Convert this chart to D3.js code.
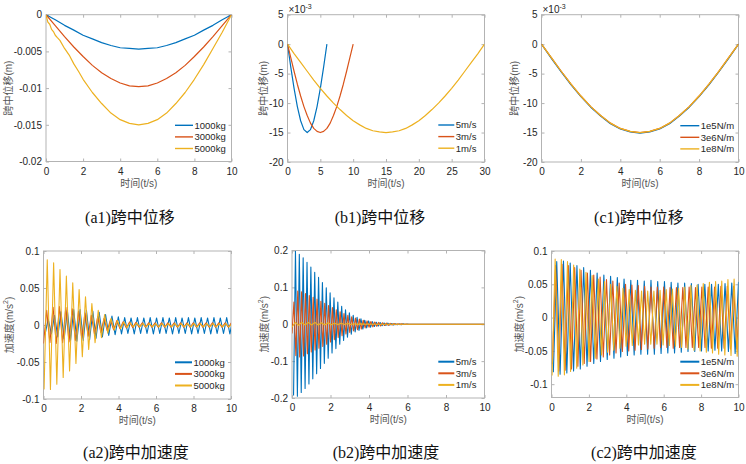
<!DOCTYPE html>
<html>
<head>
<meta charset="utf-8">
<script src="https://cdn.jsdelivr.net/npm/d3@7"></script>
<style>
  body { margin: 0; background: #fff; }
  svg { display: block; font-family: "Liberation Sans", Arial, "Noto Sans CJK SC", sans-serif; }
</style>
</head>
<body>
<svg id="fig" width="746" height="464"></svg>
<script>
// ---- series names / colours ----
const massNames   = ["1000kg", "3000kg", "5000kg"];
const speedNames  = ["5m/s", "3m/s", "1m/s"];
const springNames = ["1e5N/m", "3e6N/m", "1e8N/m"];
const lineColors  = ["#0072BD", "#D95319", "#EDB120"];

// ---- tick values ----
const ticksT10  = [0, 2, 4, 6, 8, 10];
const ticksT30  = [0, 5, 10, 15, 20, 25, 30];
const ticksDispA = [-0.02, -0.015, -0.01, -0.005, 0];
const ticksMilli = [-20, -15, -10, -5, 0, 5];      // x 10^-3
const ticksAccA  = [-0.1, -0.05, 0, 0.05, 0.1];
const ticksAccB  = [-0.2, -0.1, 0, 0.1, 0.2];

// ---- (a1) mid-span displacement, m ----
const a1Time   = [0,0.5,1,1.5,2,2.5,3,3.5,4,4.5,5,5.5,6,6.5,7,7.5,8,8.5,9,9.5,10];
const a1Mass1  = [0,-0.0007,-0.00145,-0.0021,-0.0028,-0.0033,-0.0038,-0.0042,-0.0045,-0.0046,-0.0047,-0.0046,-0.0045,-0.0042,-0.0038,-0.0033,-0.0028,-0.0021,-0.00145,-0.0007,0];
const a1Mass3  = [0,-0.0015,-0.003,-0.0044,-0.0057,-0.0069,-0.0079,-0.0087,-0.0093,-0.0097,-0.0098,-0.0097,-0.0093,-0.0087,-0.0079,-0.0069,-0.0057,-0.0044,-0.003,-0.0015,0];
const a1Time5  = [0,0.1,0.2,0.3,0.4,0.5,0.6,0.75,1,1.25,1.5,1.75,2,2.5,3,3.5,4,4.5,5,5.5,6,6.5,7,7.5,8,8.5,9,9.5,10];
const a1Mass5  = [0,-0.0010,-0.0013,-0.0020,-0.0023,-0.0028,-0.0031,-0.0035,-0.0046,-0.0055,-0.0067,-0.0077,-0.0088,-0.0106,-0.0121,-0.0134,-0.0143,-0.0148,-0.015,-0.0148,-0.0143,-0.0134,-0.0121,-0.0106,-0.0088,-0.0068,-0.0046,-0.0024,0];

// ---- (b1) displacement for speeds, x 10^-3 m ----
const b1Time5  = [0,0.5,1,1.5,2,2.5,3,3.5,4,4.5,5,5.5,6];
const b1Speed5 = [0,-3.9,-7.5,-10.6,-13.0,-14.5,-15.0,-14.5,-13.0,-10.6,-7.5,-3.9,0];
const b1Time3  = [0,0.5,1,1.5,2,2.5,3,3.5,4,4.5,5,5.5,6,6.5,7,7.5,8,8.5,9,9.5,10];
const b1Speed3 = [0,-2.3,-4.6,-6.8,-8.8,-10.6,-12.1,-13.4,-14.3,-14.8,-15.0,-14.8,-14.3,-13.4,-12.1,-10.6,-8.8,-6.8,-4.6,-2.3,0];
const b1Time1  = [0,1,2,3,4,5,6,7,8,9,10,11,12,13,14,15,16,17,18,19,20,21,22,23,24,25,26,27,28,29,30];
const b1Speed1 = [0,-1.6,-3.1,-4.6,-6.1,-7.5,-8.8,-10.0,-11.1,-12.1,-13.0,-13.7,-14.3,-14.7,-14.9,-15.0,-14.9,-14.7,-14.3,-13.7,-13.0,-12.1,-11.1,-10.0,-8.8,-7.5,-6.1,-4.6,-3.1,-1.6,0];

// ---- (c1) displacement for spring stiffness, x 10^-3 m ----
const c1Time    = [0,0.5,1,1.5,2,2.5,3,3.5,4,4.5,5,5.5,6,6.5,7,7.5,8,8.5,9,9.5,10];
const c1Spring1 = [0,-2.4,-4.7,-6.9,-8.9,-10.7,-12.2,-13.5,-14.4,-14.9,-15.1,-14.9,-14.4,-13.5,-12.2,-10.7,-8.9,-6.9,-4.7,-2.4,0];
const c1Spring2 = [0,-2.3,-4.6,-6.8,-8.8,-10.6,-12.1,-13.4,-14.3,-14.8,-15.0,-14.8,-14.3,-13.4,-12.1,-10.6,-8.8,-6.8,-4.6,-2.3,0];
const c1Spring3 = [0,-2.3,-4.6,-6.8,-8.8,-10.6,-12.1,-13.4,-14.3,-14.8,-15.0,-14.8,-14.3,-13.4,-12.1,-10.6,-8.8,-6.8,-4.6,-2.3,0];

// ---- accelerations: successive extremes (m/s^2) ----
// each list starts at its own first time and steps by half a period
const a2Mass1 = [-0.013,0.008,-0.012,0.013,-0.016,0.018,-0.019,0.020,-0.021,0.021,
  -0.022,0.021,-0.021,0.020,-0.020,0.019,-0.018,0.017,-0.016,0.014,
  -0.014,0.012,-0.013,0.011,-0.012,0.010,-0.0115,0.0095,-0.012,0.010,
  -0.0115,0.0095,-0.0115,0.010,-0.012,0.0095,-0.0115,0.010,-0.0115,0.0095,
  -0.012,0.010,-0.0115,0.0095,-0.0115,0.010,-0.012,0.0095,-0.0115,0.010,
  -0.0115,0.0095,-0.012,0.010,-0.0115,0.0095,-0.0115,0.010,-0.012,0.0095];
const a2Mass3 = [-0.025,0.020,-0.024,0.024,-0.025,0.025,-0.024,0.024,-0.023,0.022,
  -0.021,0.019,-0.018,0.016,-0.015,0.013,-0.012,0.011,-0.010,0.009,
  -0.008,0.007,-0.0065,0.006,-0.005,0.0045,-0.004,0.004,-0.0035,0.0035,
  -0.003,0.003,-0.003,0.003,-0.003,0.003,-0.003,0.003,-0.003,0.003,
  -0.003,0.003,-0.003,0.003,-0.003,0.003,-0.003,0.003,-0.003,0.003,
  -0.003,0.003,-0.003,0.003,-0.003,0.003,-0.003,0.003,-0.003,0.003];
const a2Mass5 = [-0.087,0.088,-0.087,0.084,-0.080,0.075,-0.071,0.066,-0.062,0.057,
  -0.052,0.048,-0.043,0.038,-0.033,0.029,-0.024,0.020,-0.017,0.014,
  -0.011,0.009,-0.007,0.006,-0.005,0.004,-0.0035,0.003,-0.0025,0.0025,
  -0.0025,0.002,-0.0025,0.002,-0.0025,0.002,-0.0025,0.002,-0.0025,0.002,
  -0.0025,0.002,-0.0025,0.002,-0.0025,0.002,-0.0025,0.002,-0.0025,0.002,
  -0.0025,0.002,-0.0025,0.002,-0.0025,0.002,-0.0025,0.002,-0.0025,0.002];

const b2Speed5 = [-0.193,0.198,-0.195,0.190,-0.185,0.180,-0.174,0.168,-0.162,0.155,
  -0.148,0.141,-0.134,0.127,-0.120,0.113,-0.106,0.099,-0.092,0.085,
  -0.078,0.072,-0.066,0.060,-0.054,0.049,-0.044,0.039,-0.035,0.031,
  -0.027,0.024,-0.021,0.019,-0.017,0.015,-0.013,0.011,-0.010,0.009,
  -0.008,0.007,-0.006,0.0055,-0.005,0.0045,-0.004,0.0035,-0.003,0.003,
  -0.0025,0.002,-0.002,0.0015,-0.0015,0.001,-0.001,0.001,-0.0005,0.0005];
const b2Speed3 = [-0.025,0.060,-0.085,0.090,-0.089,0.088,-0.086,0.083,-0.080,0.078,
  -0.075,0.073,-0.070,0.068,-0.065,0.062,-0.060,0.057,-0.054,0.051,
  -0.048,0.045,-0.042,0.039,-0.036,0.034,-0.031,0.029,-0.026,0.024,
  -0.022,0.020,-0.018,0.017,-0.015,0.014,-0.013,0.011,-0.010,0.009,
  -0.008,0.0075,-0.007,0.006,-0.0055,0.005,-0.0045,0.004,-0.0035,0.003,
  -0.003,0.0025,-0.002,0.002,-0.0015,0.0015,-0.001,0.001,-0.0005,0.0005];
const b2Speed1 = [-0.008,0.005,-0.003,0.005,-0.002,0.005,-0.002,0.005,-0.002,0.004,
  -0.002,0.004,-0.0015,0.003,-0.001,0.0025,-0.0008,0.002,-0.0005,0.0015,
  -0.0003,0.001,0,0.0005];

const c2Spring1 = [-0.082,0.084,-0.085,0.085,-0.083,0.082,-0.080,0.078,-0.077,0.075,
  -0.073,0.071,-0.069,0.067,-0.066,0.064,-0.063,0.062,-0.061,0.060,
  -0.059,0.058,-0.057,0.056,-0.056,0.056,-0.055,0.055,-0.055,0.056,
  -0.055,0.054,-0.054,0.054,-0.053,0.053,-0.053,0.052,-0.052,0.052,
  -0.051,0.051,-0.051,0.050,-0.050,0.050,-0.050,0.050,-0.049,0.050,
  -0.050,0.051,-0.051,0.052,-0.054,0.053,-0.056];
const c2Spring2 = [-0.070,0.078,-0.080,0.080,-0.079,0.078,-0.077,0.075,-0.073,0.071,
  -0.069,0.067,-0.066,0.064,-0.062,0.061,-0.059,0.057,-0.056,0.055,
  -0.053,0.052,-0.051,0.050,-0.050,0.049,-0.049,0.048,-0.048,0.047,
  -0.047,0.046,-0.046,0.046,-0.045,0.046,-0.045,0.045,-0.046,0.045,
  -0.045,0.045,-0.045,0.046,-0.045,0.045,-0.045,0.046,-0.045,0.046,
  -0.046,0.046,-0.046,0.047,-0.046,0.047,-0.047,0.047,-0.047,0.048];
const c2Spring3 = [-0.087,0.088,-0.088,0.087,-0.086,0.084,-0.081,0.079,-0.076,0.073,
  -0.071,0.068,-0.066,0.063,-0.061,0.058,-0.056,0.054,-0.052,0.050,
  -0.049,0.047,-0.046,0.044,-0.043,0.042,-0.042,0.041,-0.041,0.040,
  -0.040,0.040,-0.040,0.040,-0.040,0.041,-0.041,0.042,-0.042,0.043,
  -0.043,0.044,-0.045,0.046,-0.047,0.048,-0.049,0.049,-0.050,0.051,
  -0.052,0.053,-0.053,0.054,-0.055,0.055,-0.056,0.057,-0.057,0.058,
  -0.058,0.059];

// ---- helpers ----
function sampled(t, v) { return t.map((d, i) => [d, v[i]]); }
// extremes list -> points; after the list the response rests at zero
function extremes(vals, t0, dt, tEnd) {
  const pts = vals.map((v, i) => [t0 + i * dt, v]);
  const last = pts[pts.length - 1][0];
  if (last < tEnd) pts.push([last + dt, 0], [tEnd, 0]);
  return pts;
}
const fmt = v => String(v);

const svg = d3.select("#fig");
const axisGray = "#b3b3b3";
const textDark = "#262626";

function drawPanel(p, idx) {
  const [x0, x1, y0, y1] = p.box;
  const x = d3.scaleLinear().domain(p.xDom).range([x0, x1]);
  const y = d3.scaleLinear().domain(p.yDom).range([y1, y0]);
  const g = svg.append("g").attr("class", "panel");

  const clipId = "clip" + idx;
  g.append("clipPath").attr("id", clipId)
    .append("rect").attr("x", x0).attr("y", y0).attr("width", x1 - x0).attr("height", y1 - y0);

  // axes: inward ticks all around (box on)
  const tk = 3;
  const styleAxis = sel => {
    sel.select(".domain").remove();
    sel.selectAll(".tick line").attr("stroke", axisGray);
    sel.selectAll(".tick text").attr("fill", textDark).style("font-size", "10px")
      .style("font-family", '"Liberation Sans", Arial, sans-serif');
  };
  g.append("g").attr("transform", `translate(0,${y1})`)
    .call(d3.axisBottom(x).tickValues(p.xTicks).tickFormat(fmt).tickSizeInner(-tk).tickSizeOuter(0).tickPadding(6))
    .call(styleAxis);
  g.append("g").attr("transform", `translate(0,${y0})`)
    .call(d3.axisTop(x).tickValues(p.xTicks).tickFormat("").tickSizeInner(-tk).tickSizeOuter(0))
    .call(styleAxis);
  g.append("g").attr("transform", `translate(${x0},0)`)
    .call(d3.axisLeft(y).tickValues(p.yTicks).tickFormat(fmt).tickSizeInner(-tk).tickSizeOuter(0).tickPadding(4))
    .call(styleAxis);
  g.append("g").attr("transform", `translate(${x1},0)`)
    .call(d3.axisRight(y).tickValues(p.yTicks).tickFormat("").tickSizeInner(-tk).tickSizeOuter(0))
    .call(styleAxis);

  g.append("rect").attr("x", x0).attr("y", y0).attr("width", x1 - x0).attr("height", y1 - y0)
    .attr("fill", "none").attr("stroke", axisGray).attr("stroke-width", 1);

  // lines
  const line = d3.line().x(d => x(d[0])).y(d => y(d[1]));
  g.append("g").attr("clip-path", `url(#${clipId})`)
    .selectAll("path").data(p.series).join("path")
    .attr("d", s => line(s.pts))
    .attr("fill", "none")
    .attr("stroke", s => s.color)
    .attr("stroke-width", p.lw)
    .attr("stroke-linejoin", "round");

  // exponent label
  if (p.exp) {
    const e = g.append("text").attr("x", x0 + 1).attr("y", y0 - 2)
      .attr("fill", textDark).style("font-size", "10px");
    e.append("tspan").text("\u00d710");
    e.append("tspan").attr("dy", -4).style("font-size", "7px").text("-3");
  }

  // axis labels
  g.append("text").attr("x", (x0 + x1) / 2).attr("y", y1 + 25)
    .attr("text-anchor", "middle").attr("fill", "#555").style("font-size", "10px")
    .text("时间(t/s)");
  const yl = g.append("text")
    .attr("transform", `translate(${p.ylabX},${(y0 + y1) / 2}) rotate(-90)`)
    .attr("text-anchor", "middle").attr("dominant-baseline", "central")
    .attr("fill", "#555").style("font-size", "10px");
  if (p.ylabSup) {
    yl.append("tspan").text(p.ylab);
    yl.append("tspan").attr("dy", -4).style("font-size", "7px").text("2");
    yl.append("tspan").attr("dy", 4).text(")");
  } else {
    yl.text(p.ylab);
  }

  // legend (no box)
  const [lx, ly] = p.leg;
  const leg = g.append("g");
  p.series.forEach((s, i) => {
    const yy = ly + i * 11.6;
    leg.append("line").attr("x1", lx).attr("x2", lx + p.legLen).attr("y1", yy).attr("y2", yy)
      .attr("stroke", s.color).attr("stroke-width", p.legLw);
    leg.append("text").attr("x", lx + p.legLen + 1.5).attr("y", yy).attr("dy", "0.35em")
      .attr("fill", textDark).style("font-size", "9.5px").text(s.name);
  });

  // caption
  g.append("text").attr("x", p.capX).attr("y", p.capY).attr("text-anchor", "middle")
    .attr("fill", "#111")
    .style("font-family", '"Liberation Serif", "Times New Roman", "Noto Sans CJK SC", serif')
    .style("font-size", "16px").text(p.cap);
}

const mk = (names, ptsList) => names.map((n, i) => ({ name: n, color: lineColors[i], pts: ptsList[i] }));

const panels = [
  { box: [46, 231.5, 14.7, 161.5], xDom: [0, 10], yDom: [-0.02, 0], xTicks: ticksT10, yTicks: ticksDispA,
    ylab: "跨中位移(m)", ylabX: 8, exp: false, lw: 1.2, leg: [175, 125.3], legLen: 18, legLw: 1.4,
    cap: "(a1)跨中位移", capX: 130, capY: 223,
    series: mk(massNames, [sampled(a1Time, a1Mass1), sampled(a1Time, a1Mass3), sampled(a1Time5, a1Mass5)]) },
  { box: [287.5, 484.5, 14.7, 162], xDom: [0, 30], yDom: [-20, 5], xTicks: ticksT30, yTicks: ticksMilli,
    ylab: "跨中位移(m)", ylabX: 263, exp: true, lw: 1.2, leg: [438.3, 125], legLen: 16, legLw: 1.4,
    cap: "(b1)跨中位移", capX: 380, capY: 223,
    series: mk(speedNames, [sampled(b1Time5, b1Speed5), sampled(b1Time3, b1Speed3), sampled(b1Time1, b1Speed1)]) },
  { box: [541.5, 738.5, 14.7, 162], xDom: [0, 10], yDom: [-20, 5], xTicks: ticksT10, yTicks: ticksMilli,
    ylab: "跨中位移(m)", ylabX: 514.5, exp: true, lw: 1.2, leg: [680.3, 125.7], legLen: 19, legLw: 1.4,
    cap: "(c1)跨中位移", capX: 639, capY: 223,
    series: mk(springNames, [sampled(c1Time, c1Spring1), sampled(c1Time, c1Spring2), sampled(c1Time, c1Spring3)]) },
  { box: [43.5, 231, 251, 399], xDom: [0, 10], yDom: [-0.1, 0.1], xTicks: ticksT10, yTicks: ticksAccA,
    ylab: "加速度(m/s", ylabSup: true, ylabX: 9, exp: false, lw: 1.1, leg: [175, 362.3], legLen: 17, legLw: 2,
    cap: "(a2)跨中加速度", capX: 136, capY: 458,
    series: mk(massNames, [extremes(a2Mass1, 0.08, 0.17, 10), extremes(a2Mass3, 0, 0.17, 10), extremes(a2Mass5, 0.03, 0.17, 10)]) },
  { box: [292, 484.5, 250.5, 398], xDom: [0, 10], yDom: [-0.2, 0.2], xTicks: ticksT10, yTicks: ticksAccB,
    ylab: "加速度(m/s", ylabSup: true, ylabX: 264, exp: false, lw: 1.1, leg: [438.3, 361.7], legLen: 16, legLw: 2,
    cap: "(b2)跨中加速度", capX: 386, capY: 458,
    series: mk(speedNames, [extremes(b2Speed5, 0.08, 0.1, 10), extremes(b2Speed3, 0, 0.1, 10), extremes(b2Speed1, 0, 0.17, 10)]) },
  { box: [551.5, 738.5, 251, 397.5], xDom: [0, 10], yDom: [-0.12, 0.1], xTicks: ticksT10, yTicks: ticksAccA,
    ylab: "加速度(m/s", ylabSup: true, ylabX: 519, exp: false, lw: 1.1, leg: [680.3, 361.7], legLen: 19, legLw: 2,
    cap: "(c2)跨中加速度", capX: 644, capY: 458,
    series: mk(springNames, [extremes(c2Spring1, 0.1, 0.18, 10), extremes(c2Spring2, 0.05, 0.17, 10), extremes(c2Spring3, 0.03, 0.165, 10)]) }
];

panels.forEach(drawPanel);
</script>
</body>
</html>
